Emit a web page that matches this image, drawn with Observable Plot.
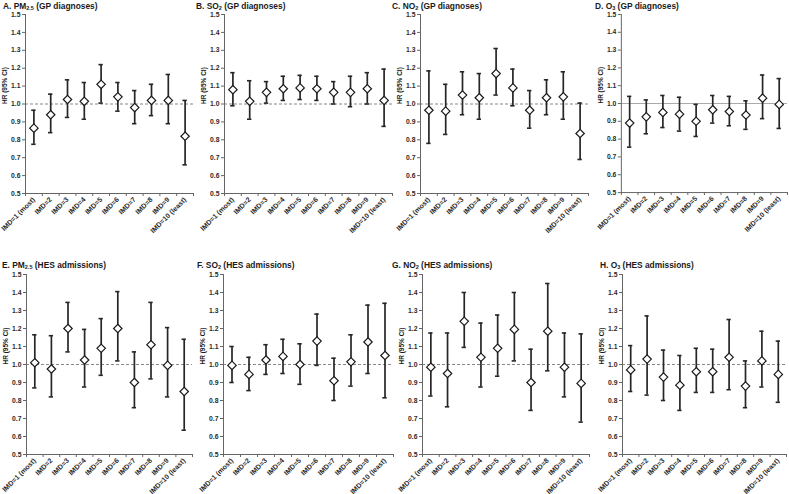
<!DOCTYPE html>
<html><head><meta charset="utf-8">
<script src="https://cdn.jsdelivr.net/npm/d3@7"></script>
<script src="https://cdn.jsdelivr.net/npm/@observablehq/plot@0.6"></script>
<style>
html,body{margin:0;padding:0;background:#fff}
body{width:789px;height:494px;position:relative;overflow:hidden;font-family:"Liberation Sans",Arial,sans-serif}
.title{position:absolute;font-weight:bold;font-size:8.4px;color:#1a1a1a;white-space:nowrap;line-height:10px}
.title sub{font-size:5.5px;vertical-align:-1px;line-height:0}
.panel{position:absolute}
.panel svg{overflow:visible}
</style></head><body>
<script>
// ---- data ----
const categories = ["IMD=1 (most)","IMD=2","IMD=3","IMD=4","IMD=5","IMD=6","IMD=7","IMD=8","IMD=9","IMD=10 (least)"];
const yTicks = [0.5,0.6,0.7,0.8,0.9,1.0,1.1,1.2,1.3,1.4,1.5];
const yLabel = "HR (95% CI)";

// A. PM2.5 (GP diagnoses)
const pm25GP_hr = [0.865,0.94,1.025,1.015,1.11,1.04,0.98,1.02,1.02,0.82];
const pm25GP_lo = [0.775,0.84,0.925,0.915,1.005,0.96,0.89,0.935,0.89,0.66];
const pm25GP_hi = [0.965,1.055,1.135,1.12,1.22,1.12,1.075,1.11,1.165,1.02];
// B. SO2 (GP diagnoses)
const so2GP_hr = [1.08,1.015,1.065,1.085,1.09,1.085,1.065,1.065,1.085,1.02];
const so2GP_lo = [0.99,0.915,1.005,1.02,1.025,1.02,1.0,0.985,1.0,0.875];
const so2GP_hi = [1.175,1.13,1.125,1.155,1.16,1.155,1.125,1.155,1.175,1.195];
// C. NO2 (GP diagnoses)
const no2GP_hr = [0.965,0.96,1.05,1.035,1.17,1.09,0.965,1.035,1.04,0.835];
const no2GP_lo = [0.78,0.83,0.94,0.915,1.05,0.99,0.865,0.94,0.915,0.69];
const no2GP_hi = [1.185,1.11,1.18,1.17,1.31,1.195,1.075,1.135,1.18,1.005];
// D. O3 (GP diagnoses)
const o3GP_hr = [0.89,0.925,0.95,0.94,0.9,0.965,0.955,0.935,1.03,0.995];
const o3GP_lo = [0.755,0.83,0.865,0.845,0.815,0.89,0.875,0.855,0.915,0.86];
const o3GP_hi = [1.04,1.02,1.045,1.035,0.995,1.045,1.04,1.015,1.16,1.14];
// E. PM2.5 (HES admissions)
const pm25HES_hr = [1.01,0.975,1.2,1.025,1.09,1.2,0.9,1.11,0.995,0.85];
const pm25HES_lo = [0.87,0.82,1.07,0.875,0.94,1.02,0.76,0.92,0.82,0.635];
const pm25HES_hi = [1.165,1.16,1.345,1.195,1.255,1.405,1.07,1.345,1.205,1.14];
// F. SO2 (HES admissions)
const so2HES_hr = [0.995,0.945,1.025,1.045,1.0,1.13,0.91,1.015,1.125,1.05];
const so2HES_lo = [0.9,0.855,0.945,0.95,0.89,0.995,0.8,0.88,0.95,0.815];
const so2HES_hi = [1.1,1.04,1.11,1.14,1.115,1.28,1.035,1.165,1.33,1.34];
// G. NO2 (HES admissions)
const no2HES_hr = [0.985,0.95,1.24,1.04,1.09,1.195,0.9,1.185,0.985,0.895];
const no2HES_lo = [0.825,0.765,1.095,0.875,0.935,1.02,0.745,0.965,0.82,0.68];
const no2HES_hi = [1.175,1.175,1.4,1.23,1.275,1.4,1.085,1.45,1.175,1.17];
// H. O3 (HES admissions)
const o3HES_hr = [0.97,1.03,0.93,0.885,0.96,0.96,1.04,0.88,1.02,0.945];
const o3HES_lo = [0.85,0.83,0.8,0.745,0.845,0.845,0.86,0.76,0.875,0.79];
const o3HES_hi = [1.105,1.27,1.08,1.05,1.09,1.085,1.25,1.02,1.185,1.13];

const panelTitles = [
  "A. PM<sub>2.5</sub> (GP diagnoses)","B. SO<sub>2</sub> (GP diagnoses)",
  "C. NO<sub>2</sub> (GP diagnoses)","D. O<sub>3</sub> (GP diagnoses)",
  "E. PM<sub>2.5</sub> (HES admissions)","F. SO<sub>2</sub> (HES admissions)",
  "G. NO<sub>2</sub> (HES admissions)","H. O<sub>3</sub> (HES admissions)"
];
const series = [
  [pm25GP_hr,pm25GP_lo,pm25GP_hi],[so2GP_hr,so2GP_lo,so2GP_hi],
  [no2GP_hr,no2GP_lo,no2GP_hi],[o3GP_hr,o3GP_lo,o3GP_hi],
  [pm25HES_hr,pm25HES_lo,pm25HES_hi],[so2HES_hr,so2HES_lo,so2HES_hi],
  [no2HES_hr,no2HES_lo,no2HES_hi],[o3HES_hr,o3HES_lo,o3HES_hi]
];

// ---- layout (pixels) ----
const plotLefts  = [25,224,420,621, 26,223,422,622];
const plotRights = [193,392,588,788, 192,393,589,786];
const rowTop = [14,274], rowBottom = [193,454];
const titleLefts = [3,196,392,595, 2,197,392,600];
const titleTops = [1,260];

function makePanel(k){
  const [hr,lo,hi] = series[k];
  const row = k < 4 ? 0 : 1;
  const data = categories.map((c,i)=>({i:i+1,c,hr:hr[i],lo:lo[i],hi:hi[i]}));
  const mL = 30, mR = 2, mT = 8, mB = row===0 ? 55 : 42;
  const width = plotRights[k]-plotLefts[k]+mL+mR;
  const height = mT + (rowBottom[row]-rowTop[row]) + mB;
  const cap = 0.13;
  const refStyle = k===3 ? {stroke:"#aaa", strokeWidth:1.2} : {stroke:"#888", strokeDasharray:"3,2", strokeWidth:1};
  const svg = Plot.plot({
    width, height, marginLeft:mL, marginRight:mR, marginTop:mT, marginBottom:mB,
    style:{fontFamily:"'Liberation Sans',Arial,sans-serif", fontSize:"6.8px", fontWeight:"bold", color:"#2a2a2a", background:"transparent", overflow:"visible"},
    x:{domain:[0.5,10.5], axis:null},
    y:{domain:[0.5,1.5], axis:null},
    marks:[
      Plot.ruleY([1.0], {...refStyle}),
      Plot.ruleX(data,{x:"i", y1:"lo", y2:"hi", stroke:"#262626", strokeWidth:1.7}),
      Plot.ruleY(data,{y:"hi", x1:d=>d.i-cap, x2:d=>d.i+cap, stroke:"#262626", strokeWidth:1.6}),
      Plot.ruleY(data,{y:"lo", x1:d=>d.i-cap, x2:d=>d.i+cap, stroke:"#262626", strokeWidth:1.6}),
      Plot.dot(data,{x:"i", y:"hr", symbol:"diamond2", r:3.8, fill:"white", stroke:"#1a1a1a", strokeWidth:1.2}),
      Plot.ruleX([0.5],{stroke:"#666", strokeWidth:1}),
      Plot.ruleY([0.5],{stroke:"#666", strokeWidth:1}),
      Plot.axisY({ticks:yTicks, tickFormat:d3.format(".1f"), tickSize:3, tickPadding:2, stroke:"#666", label:null}),
      Plot.axisX({ticks:d3.range(1,11), tickFormat:i=>categories[i-1], tickSize:0, tickRotate:-45, tickPadding:5, fontSize:"7px", label:null}),
      Plot.axisX({ticks:d3.range(0.5,11,1), tickFormat:()=>"", tickSize:3, stroke:"#666", label:null}),
      Plot.text([yLabel],{frameAnchor:"left", dx:-21, rotate:-90, fontSize:"6.5px", fill:"#1a1a1a"})
    ]
  });
  const div = document.createElement("div");
  div.className = "panel";
  div.style.left = (plotLefts[k]-mL)+"px";
  div.style.top = (rowTop[row]-mT)+"px";
  div.appendChild(svg);
  document.body.appendChild(div);
  const t = document.createElement("div");
  t.className = "title";
  t.style.left = titleLefts[k]+"px";
  t.style.top = titleTops[row]+"px";
  t.innerHTML = panelTitles[k];
  document.body.appendChild(t);
}
for (let k=0;k<8;k++) makePanel(k);
</script>
</body></html>
